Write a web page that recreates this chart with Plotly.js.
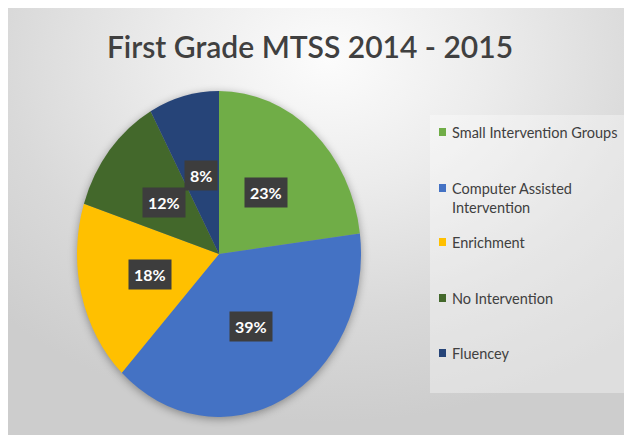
<!DOCTYPE html>
<html>
<head>
<meta charset="utf-8">
<script src="https://cdn.plot.ly/plotly-3.0.1.min.js"></script>
<style>
  html, body { margin: 0; padding: 0; background: #ffffff; }
  #chart {
    width: 624px; height: 435px;
    background:
      radial-gradient(ellipse 75% 85% at 52% 12%, #fcfcfc 0%, #ececec 35%, #d9d9d9 70%, #cdcdcd 100%) 8px 8px / 616px 427px no-repeat,
      #ffffff;
  }
  #chart .pielayer { filter: drop-shadow(0px 2px 4px rgba(0,0,0,0.35)); }
</style>
</head>
<body>
<div id="chart"></div>
<script>
// ---- data ----
const categories = ["Small Intervention Groups", "Computer Assisted<br>Intervention", "Enrichment", "No Intervention", "Fluencey"];
const values = [23, 39, 18, 12, 8];
const labelsText = ["23%", "39%", "18%", "12%", "8%"];
const colors = ["#70AD47", "#4472C4", "#FFC000", "#43682B", "#264478"];
const chartTitle = "First Grade MTSS 2014 - 2015";

// ---- geometry (pixels) ----
const W = 624, H = 435;
const cx = 219, cy = 254, rx = 142, ry = 163;
const yScale = ry / rx;

const domainX = [(cx - rx) / W, (cx + rx) / W];
const domainY = [1 - (cy + rx) / H, 1 - (cy - rx) / H];

const total = values.reduce((a, b) => a + b, 0);
const annotations = [];
let cum = 0;
values.forEach((v, i) => {
  const mid = (cum + v / 2) / total * 2 * Math.PI;
  cum += v;
  const px = cx + 0.5 * rx * Math.sin(mid);
  const py = cy - 0.5 * ry * Math.cos(mid);
  annotations.push({
    xref: 'paper', yref: 'paper', x: px / W, y: 1 - py / H,
    xanchor: 'center', yanchor: 'middle',
    text: '<b>' + labelsText[i] + '</b>', showarrow: false,
    font: { family: 'Lato, "Open Sans", sans-serif', size: 16, color: '#ffffff' },
    bgcolor: '#3d3d3d', borderpad: 5
  });
});

// legend (custom, spaced like the original)
const legendY = [132, 188, 242, 298, 353];
const shapes = [{
  type: 'rect', xref: 'paper', yref: 'paper',
  x0: 430 / W, x1: 1, y0: 1 - 393 / H, y1: 1 - 115 / H,
  fillcolor: 'rgba(255,255,255,0.35)', line: { width: 0 }, layer: 'below'
}];
categories.forEach((c, i) => {
  const y = legendY[i];
  shapes.push({
    type: 'rect', xref: 'paper', yref: 'paper',
    x0: 439 / W, x1: 446 / W, y0: 1 - (y + 4) / H, y1: 1 - (y - 4) / H,
    fillcolor: colors[i], line: { width: 0 }
  });
  annotations.push({
    xref: 'paper', yref: 'paper', x: 450 / W, y: 1 - (y - 10) / H,
    xanchor: 'left', yanchor: 'top', align: 'left', showarrow: false,
    text: c,
    font: { family: 'Lato, "Open Sans", sans-serif', size: 14.5, color: '#404040' }
  });
});

const data = [{
  type: 'pie',
  values: values,
  labels: categories,
  marker: { colors: colors, line: { width: 0 } },
  sort: false,
  direction: 'clockwise',
  rotation: 0,
  textinfo: 'none',
  hoverinfo: 'label+percent',
  domain: { x: domainX, y: domainY },
  showlegend: false
}];

const layout = {
  width: W, height: H,
  margin: { l: 0, r: 0, t: 0, b: 0 },
  paper_bgcolor: 'rgba(0,0,0,0)',
  plot_bgcolor: 'rgba(0,0,0,0)',
  showlegend: false,
  title: {
    text: chartTitle,
    x: 310 / W, xanchor: 'center', y: 1 - 47 / H, yanchor: 'middle',
    font: { family: 'Lato, "Open Sans", sans-serif', size: 30, color: '#404040', weight: 600 }
  },
  annotations: annotations,
  shapes: shapes
};

Plotly.newPlot('chart', data, layout, { displayModeBar: false, staticPlot: true }).then(() => {
  document.querySelectorAll('#chart .pielayer .trace').forEach(g => {
    g.setAttribute('transform', `translate(${cx},${cy}) scale(1,${yScale}) translate(${-cx},${-cy})`);
  });
});
</script>
</body>
</html>
